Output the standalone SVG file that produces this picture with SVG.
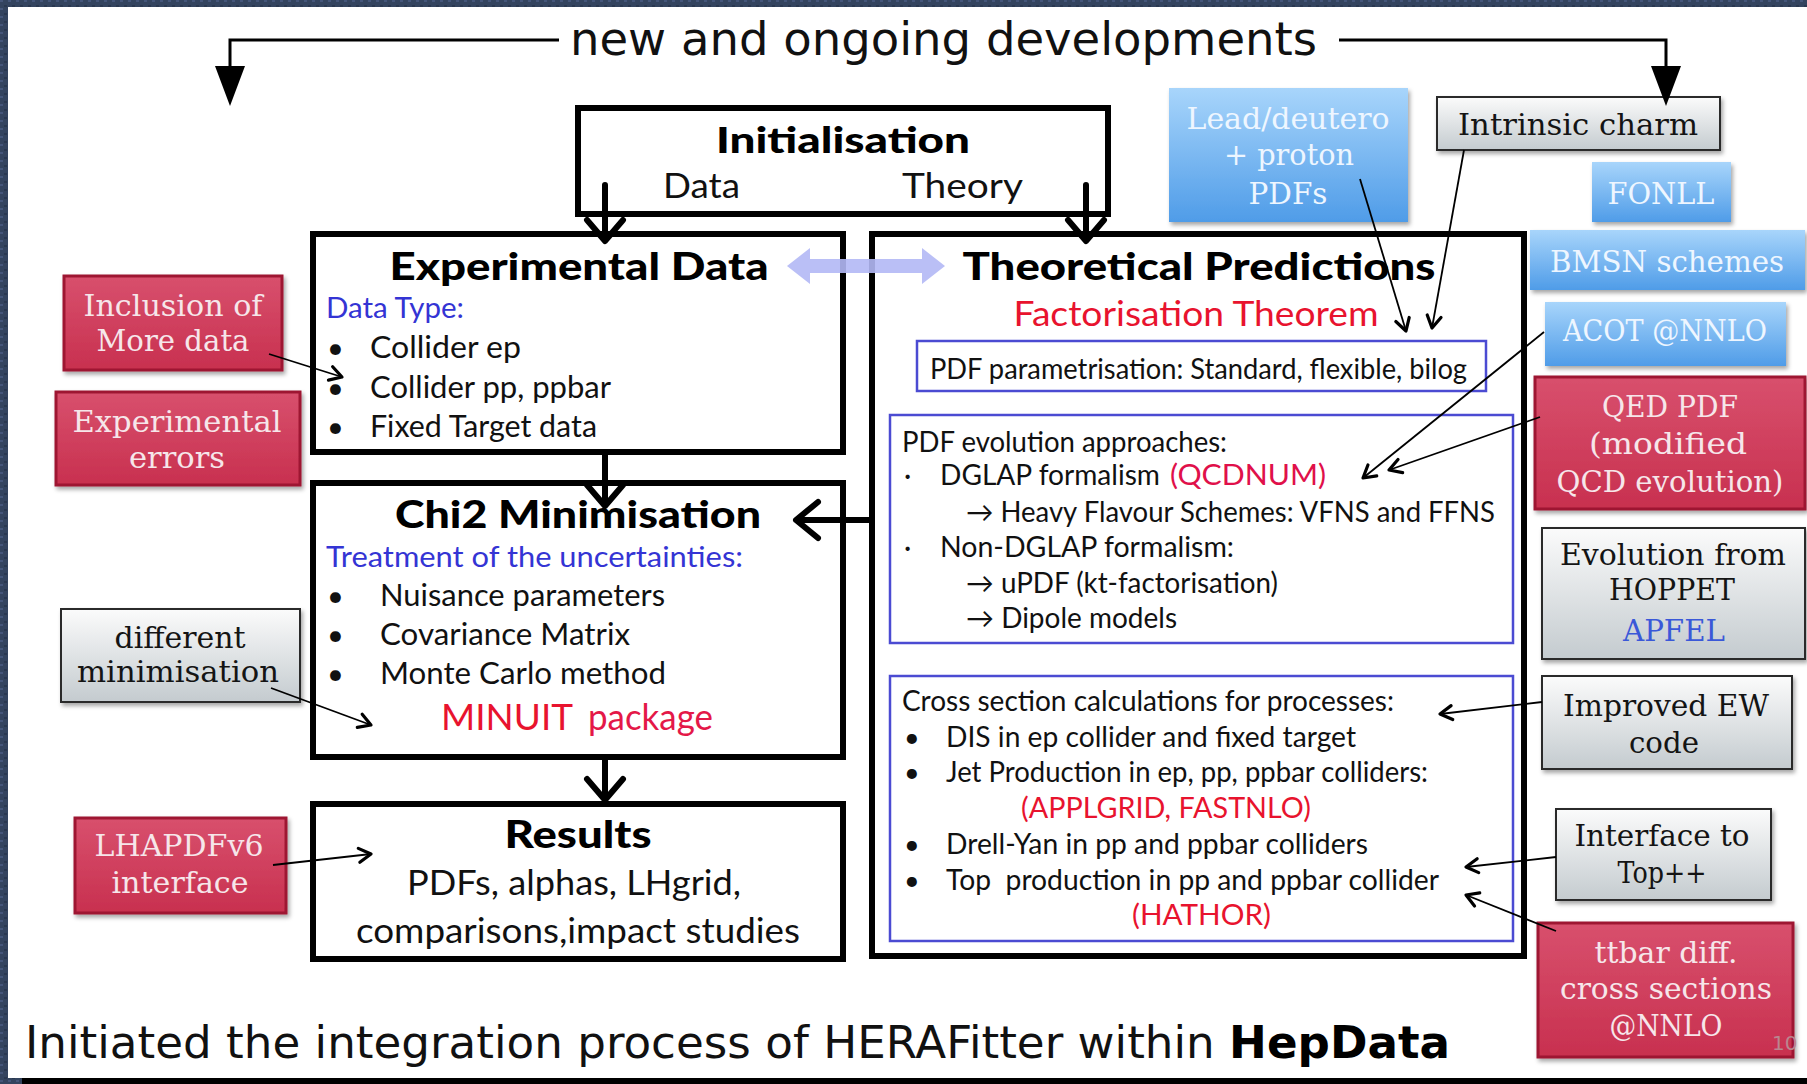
<svg xmlns="http://www.w3.org/2000/svg" width="1807" height="1084" viewBox="0 0 1807 1084">
<defs>
<linearGradient id="gRed" x1="0" y1="0" x2="0" y2="1"><stop offset="0" stop-color="#d8506d"/><stop offset="1" stop-color="#c8304f"/></linearGradient>
<linearGradient id="gBlue" x1="0" y1="0" x2="0" y2="1"><stop offset="0" stop-color="#a8d5fb"/><stop offset="1" stop-color="#4f9ce8"/></linearGradient>
<linearGradient id="gGray" x1="0" y1="0" x2="0" y2="1"><stop offset="0" stop-color="#fbfbfb"/><stop offset="1" stop-color="#c4cbcf"/></linearGradient>
<filter id="sh" x="-10%" y="-10%" width="130%" height="140%"><feDropShadow dx="2" dy="3" stdDeviation="2" flood-color="#000" flood-opacity="0.35"/></filter>
<marker id="ah" viewBox="0 0 20 20" refX="15" refY="10" markerWidth="20" markerHeight="20" markerUnits="userSpaceOnUse" orient="auto"><path d="M3,3 L15,10 L3,17" fill="none" stroke="#000" stroke-width="3.2" stroke-linecap="round" stroke-linejoin="round"/></marker>
<pattern id="tex" width="8" height="8" patternUnits="userSpaceOnUse"><rect width="8" height="8" fill="#34445f"/><rect x="0" y="0" width="3" height="2" fill="#45567a"/><rect x="4" y="5" width="3" height="2" fill="#2a3850"/></pattern>
</defs>
<style>
.g{font-family:Lato,"Open Sans","Liberation Sans",sans-serif;fill:#111;}
.gb{font-family:Lato,"Open Sans","Liberation Sans",sans-serif;font-weight:900;fill:#000;}
.tw{font-family:"DejaVu Serif","Liberation Serif",serif;}
.dv{font-family:"DejaVu Sans",sans-serif;fill:#111;}
.red{fill:#e8132e;}
.blu{fill:#3434d4;}
.box{fill:#fff;stroke:#000;stroke-width:6;}
.ibox{fill:none;stroke:#4b4bd2;stroke-width:2.5;}
.rb{fill:url(#gRed);stroke:#9e1832;stroke-width:3;}
.bb{fill:url(#gBlue);}
.gyb{fill:url(#gGray);stroke:#2a2a2a;stroke-width:2;}
.rt{fill:#f6e6ea;font-size:29px;}
.bt{fill:#eef6ff;font-size:29px;}
.gt{fill:#141414;font-size:29px;}
.thick{fill:none;stroke:#000;stroke-width:6;stroke-linecap:round;stroke-linejoin:round;}
.thin{fill:none;stroke:#000;stroke-width:1.8;marker-end:url(#ah);}
</style>
<rect width="1807" height="1084" fill="url(#tex)"/>
<rect x="8" y="7" width="1799" height="1071" fill="#fff"/>
<rect x="22" y="1078" width="1785" height="6" fill="#000"/>

<text class="dv" x="570" y="55" font-size="46" textLength="747" lengthAdjust="spacingAndGlyphs">new and ongoing developments</text>

<g id="init">
<rect class="box" x="578" y="108" width="530" height="106"/>
<text class="gb" x="843" y="153" font-size="36" text-anchor="middle" textLength="254" lengthAdjust="spacingAndGlyphs">Initialisation</text>
<text class="g" x="663" y="198" font-size="34" textLength="77" lengthAdjust="spacingAndGlyphs">Data</text>
<text class="g" x="902" y="198" font-size="34" textLength="121" lengthAdjust="spacingAndGlyphs">Theory</text>
</g>

<g id="expdata">
<rect class="box" x="313" y="234" width="530" height="218"/>
<text class="gb" x="579" y="280" font-size="37" text-anchor="middle" textLength="379" lengthAdjust="spacingAndGlyphs">Experimental Data</text>
<text class="g blu" x="326" y="318" font-size="29" textLength="138" lengthAdjust="spacingAndGlyphs">Data Type:</text>
<text class="g" x="327" y="358" font-size="29">•</text>
<text class="g" x="370" y="358" font-size="30" textLength="151" lengthAdjust="spacingAndGlyphs">Collider ep</text>
<text class="g" x="327" y="398" font-size="29">•</text>
<text class="g" x="370" y="398" font-size="30" textLength="241" lengthAdjust="spacingAndGlyphs">Collider pp, ppbar</text>
<text class="g" x="327" y="437" font-size="29">•</text>
<text class="g" x="370" y="437" font-size="30" textLength="227" lengthAdjust="spacingAndGlyphs">Fixed Target data</text>
</g>

<g id="theo">
<rect class="box" x="872" y="234" width="652" height="722"/>
<text class="gb" x="1199" y="280" font-size="37" text-anchor="middle" textLength="473" lengthAdjust="spacingAndGlyphs">Theoretical Predictions</text>
<text class="g red" x="1196" y="326" font-size="35" text-anchor="middle" textLength="365" lengthAdjust="spacingAndGlyphs">Factorisation Theorem</text>
<rect class="ibox" x="917" y="341" width="569" height="50"/>
<text class="g" x="930" y="379" font-size="28" textLength="537" lengthAdjust="spacingAndGlyphs">PDF parametrisation: Standard, flexible, bilog</text>
<rect class="ibox" x="890" y="415" width="623" height="228"/>
<text class="g" x="902" y="452" font-size="28" textLength="325" lengthAdjust="spacingAndGlyphs">PDF evolution approaches:</text>
<text class="g" x="904" y="485" font-size="28">·</text>
<text class="g" x="940" y="485" font-size="28" textLength="220" lengthAdjust="spacingAndGlyphs">DGLAP formalism</text>
<text class="g" x="1170" y="485" font-size="28" fill="#e0104a" textLength="156" lengthAdjust="spacingAndGlyphs" style="fill:#e0104a">(QCDNUM)</text>
<text class="g" x="966" y="522" font-size="28" textLength="529" lengthAdjust="spacingAndGlyphs">→ Heavy Flavour Schemes: VFNS and FFNS</text>
<text class="g" x="904" y="557" font-size="28">·</text>
<text class="g" x="940" y="557" font-size="28" textLength="294" lengthAdjust="spacingAndGlyphs">Non-DGLAP formalism:</text>
<text class="g" x="966" y="593" font-size="28" textLength="312" lengthAdjust="spacingAndGlyphs">→ uPDF (kt-factorisation)</text>
<text class="g" x="966" y="628" font-size="28" textLength="211" lengthAdjust="spacingAndGlyphs">→ Dipole models</text>
<rect class="ibox" x="890" y="676" width="623" height="265"/>
<text class="g" x="902" y="711" font-size="28" textLength="492" lengthAdjust="spacingAndGlyphs">Cross section calculations for processes:</text>
<text class="g" x="904" y="747" font-size="27">•</text>
<text class="g" x="946" y="747" font-size="28" textLength="410" lengthAdjust="spacingAndGlyphs">DIS in ep collider and fixed target</text>
<text class="g" x="904" y="782" font-size="27">•</text>
<text class="g" x="946" y="782" font-size="28" textLength="482" lengthAdjust="spacingAndGlyphs">Jet Production in ep, pp, ppbar colliders:</text>
<text class="g red" x="1021" y="818" font-size="28" textLength="290" lengthAdjust="spacingAndGlyphs">(APPLGRID, FASTNLO)</text>
<text class="g" x="904" y="854" font-size="27">•</text>
<text class="g" x="946" y="854" font-size="28" textLength="422" lengthAdjust="spacingAndGlyphs">Drell-Yan in pp and ppbar colliders</text>
<text class="g" x="904" y="890" font-size="27">•</text>
<text class="g" x="946" y="890" font-size="28" textLength="493" lengthAdjust="spacingAndGlyphs" xml:space="preserve">Top  production in pp and ppbar collider</text>
<text class="g red" x="1132" y="925" font-size="28" textLength="139" lengthAdjust="spacingAndGlyphs">(HATHOR)</text>
</g>

<g id="chi2">
<rect class="box" x="313" y="483" width="530" height="274"/>
<text class="gb" x="578" y="528" font-size="37" text-anchor="middle" textLength="366" lengthAdjust="spacingAndGlyphs">Chi2 Minimisation</text>
<text class="g blu" x="326" y="567" font-size="29" textLength="417" lengthAdjust="spacingAndGlyphs">Treatment of the uncertainties:</text>
<text class="g" x="327" y="606" font-size="29">•</text>
<text class="g" x="380" y="606" font-size="30" textLength="285" lengthAdjust="spacingAndGlyphs">Nuisance parameters</text>
<text class="g" x="327" y="645" font-size="29">•</text>
<text class="g" x="380" y="645" font-size="30" textLength="250" lengthAdjust="spacingAndGlyphs">Covariance Matrix</text>
<text class="g" x="327" y="684" font-size="29">•</text>
<text class="g" x="380" y="684" font-size="30" textLength="286" lengthAdjust="spacingAndGlyphs">Monte Carlo method</text>
<text class="g red" x="441" y="730" font-size="36" textLength="132" lengthAdjust="spacingAndGlyphs">MINUIT</text>
<text class="g" x="588" y="730" font-size="36" textLength="125" lengthAdjust="spacingAndGlyphs" style="fill:#e41848">package</text>
</g>

<g id="results">
<rect class="box" x="313" y="804" width="530" height="155"/>
<text class="gb" x="578" y="848" font-size="37" text-anchor="middle" textLength="147" lengthAdjust="spacingAndGlyphs">Results</text>
<text class="g" x="574" y="895" font-size="35" text-anchor="middle" textLength="334" lengthAdjust="spacingAndGlyphs">PDFs, alphas, LHgrid,</text>
<text class="g" x="578" y="943" font-size="35" text-anchor="middle" textLength="444" lengthAdjust="spacingAndGlyphs">comparisons,impact studies</text>
</g>

<g id="inclusion">
<rect class="rb" x="64" y="276" width="218" height="94" filter="url(#sh)"/>
<text class="tw rt" x="173" y="316" text-anchor="middle" textLength="179" lengthAdjust="spacingAndGlyphs">Inclusion of</text>
<text class="tw rt" x="173" y="351" text-anchor="middle" textLength="153" lengthAdjust="spacingAndGlyphs">More data</text>
</g>
<g id="experrors">
<rect class="rb" x="56" y="392" width="244" height="93" filter="url(#sh)"/>
<text class="tw rt" x="177" y="432" text-anchor="middle" textLength="209" lengthAdjust="spacingAndGlyphs">Experimental</text>
<text class="tw rt" x="177" y="468" text-anchor="middle" textLength="96" lengthAdjust="spacingAndGlyphs">errors</text>
</g>
<g id="diffmin">
<rect class="gyb" x="61" y="609" width="239" height="93" filter="url(#sh)"/>
<text class="tw gt" x="180" y="648" text-anchor="middle" textLength="131" lengthAdjust="spacingAndGlyphs">different</text>
<text class="tw gt" x="178" y="682" text-anchor="middle" textLength="202" lengthAdjust="spacingAndGlyphs">minimisation</text>
</g>
<g id="lhapdf">
<rect class="rb" x="75" y="818" width="211" height="95" filter="url(#sh)"/>
<text class="tw rt" x="179" y="856" text-anchor="middle" textLength="169" lengthAdjust="spacingAndGlyphs">LHAPDFv6</text>
<text class="tw rt" x="180" y="893" text-anchor="middle" textLength="137" lengthAdjust="spacingAndGlyphs">interface</text>
</g>

<g id="lead">
<rect class="bb" x="1169" y="88" width="239" height="134" filter="url(#sh)"/>
<text class="tw bt" x="1288" y="129" text-anchor="middle" textLength="203" lengthAdjust="spacingAndGlyphs">Lead/deutero</text>
<text class="tw bt" x="1289" y="165" text-anchor="middle" textLength="130" lengthAdjust="spacingAndGlyphs">+ proton</text>
<text class="tw bt" x="1288" y="204" text-anchor="middle" textLength="79" lengthAdjust="spacingAndGlyphs">PDFs</text>
</g>
<g id="charm">
<rect class="gyb" x="1437" y="97" width="283" height="53" filter="url(#sh)"/>
<text class="tw gt" x="1578" y="135" text-anchor="middle" textLength="240" lengthAdjust="spacingAndGlyphs">Intrinsic charm</text>
</g>
<g id="fonll">
<rect class="bb" x="1592" y="162" width="139" height="60" filter="url(#sh)"/>
<text class="tw bt" x="1661" y="204" text-anchor="middle" textLength="107" lengthAdjust="spacingAndGlyphs">FONLL</text>
</g>
<g id="bmsn">
<rect class="bb" x="1530" y="230" width="275" height="60" filter="url(#sh)"/>
<text class="tw bt" x="1667" y="272" text-anchor="middle" textLength="234" lengthAdjust="spacingAndGlyphs">BMSN schemes</text>
</g>
<g id="acot">
<rect class="bb" x="1545" y="302" width="241" height="64" filter="url(#sh)"/>
<text class="tw bt" x="1665" y="341" text-anchor="middle" textLength="204" lengthAdjust="spacingAndGlyphs">ACOT @NNLO</text>
</g>
<g id="qed">
<rect class="rb" x="1535" y="377" width="270" height="132" filter="url(#sh)"/>
<text class="tw rt" x="1670" y="417" text-anchor="middle" textLength="136" lengthAdjust="spacingAndGlyphs">QED PDF</text>
<text class="tw rt" x="1668" y="454" text-anchor="middle" textLength="158" lengthAdjust="spacingAndGlyphs">(modified</text>
<text class="tw rt" x="1670" y="492" text-anchor="middle" textLength="227" lengthAdjust="spacingAndGlyphs">QCD evolution)</text>
</g>
<g id="evol">
<rect class="gyb" x="1542" y="528" width="263" height="131" filter="url(#sh)"/>
<text class="tw gt" x="1673" y="565" text-anchor="middle" textLength="226" lengthAdjust="spacingAndGlyphs">Evolution from</text>
<text class="tw gt" x="1672" y="600" text-anchor="middle" textLength="126" lengthAdjust="spacingAndGlyphs">HOPPET</text>
<text class="tw" x="1674" y="641" font-size="29" text-anchor="middle" textLength="102" lengthAdjust="spacingAndGlyphs" fill="#3a58d8">APFEL</text>
</g>
<g id="ew">
<rect class="gyb" x="1542" y="676" width="250" height="93" filter="url(#sh)"/>
<text class="tw gt" x="1666" y="716" text-anchor="middle" textLength="206" lengthAdjust="spacingAndGlyphs">Improved EW</text>
<text class="tw gt" x="1664" y="753" text-anchor="middle" textLength="70" lengthAdjust="spacingAndGlyphs">code</text>
</g>
<g id="topp">
<rect class="gyb" x="1556" y="809" width="215" height="91" filter="url(#sh)"/>
<text class="tw gt" x="1662" y="846" text-anchor="middle" textLength="175" lengthAdjust="spacingAndGlyphs">Interface to</text>
<text class="tw gt" x="1662" y="883" text-anchor="middle" textLength="89" lengthAdjust="spacingAndGlyphs">Top++</text>
</g>
<g id="ttbar">
<rect class="rb" x="1538" y="923" width="255" height="134" filter="url(#sh)"/>
<text class="tw rt" x="1666" y="963" text-anchor="middle" textLength="143" lengthAdjust="spacingAndGlyphs">ttbar diff.</text>
<text class="tw rt" x="1666" y="999" text-anchor="middle" textLength="212" lengthAdjust="spacingAndGlyphs">cross sections</text>
<text class="tw rt" x="1666" y="1036" text-anchor="middle" textLength="113" lengthAdjust="spacingAndGlyphs">@NNLO</text>
<text class="dv" x="1772" y="1050" font-size="20" style="fill:#b9868f">10</text>
</g>

<g id="connectors">
<path d="M559,40 H230 V80" fill="none" stroke="#000" stroke-width="3"/>
<polygon points="215,66 245,66 230,106" fill="#000"/>
<path d="M1339,40 H1666 V80" fill="none" stroke="#000" stroke-width="3"/>
<polygon points="1651,66 1681,66 1666,106" fill="#000"/>
<path class="thick" d="M605,185 V240 M587,220 L605,241 L623,220"/>
<path class="thick" d="M1086,185 V240 M1068,220 L1086,241 L1104,220"/>
<path class="thick" d="M605,452 V505 M587,485 L605,506 L623,485"/>
<path class="thick" d="M605,757 V799 M587,779 L605,800 L623,779"/>
<path class="thick" d="M872,520 H797 M818,502 L796,520 L818,538"/>
<polygon points="787,266 810,248 810,259 922,259 922,248 945,266 922,284 922,273 810,273 810,284" fill="#b3b8f5" opacity="0.9"/>
<line class="thin" x1="269" y1="354" x2="342" y2="377"/>
<line class="thin" x1="271" y1="688" x2="371" y2="725"/>
<line class="thin" x1="273" y1="865" x2="371" y2="854"/>
<line class="thin" x1="1360" y1="179" x2="1406" y2="331"/>
<line class="thin" x1="1464" y1="150" x2="1432" y2="328"/>
<line class="thin" x1="1544" y1="332" x2="1363" y2="478"/>
<line class="thin" x1="1540" y1="417" x2="1389" y2="470"/>
<line class="thin" x1="1542" y1="702" x2="1440" y2="714"/>
<line class="thin" x1="1556" y1="857" x2="1466" y2="867"/>
<line class="thin" x1="1556" y1="931" x2="1466" y2="895"/>
</g>

<text class="dv" x="25" y="1058" font-size="45" textLength="1425" lengthAdjust="spacingAndGlyphs">Initiated the integration process of HERAFitter within <tspan font-weight="bold" fill="#000">HepData</tspan></text>
</svg>
